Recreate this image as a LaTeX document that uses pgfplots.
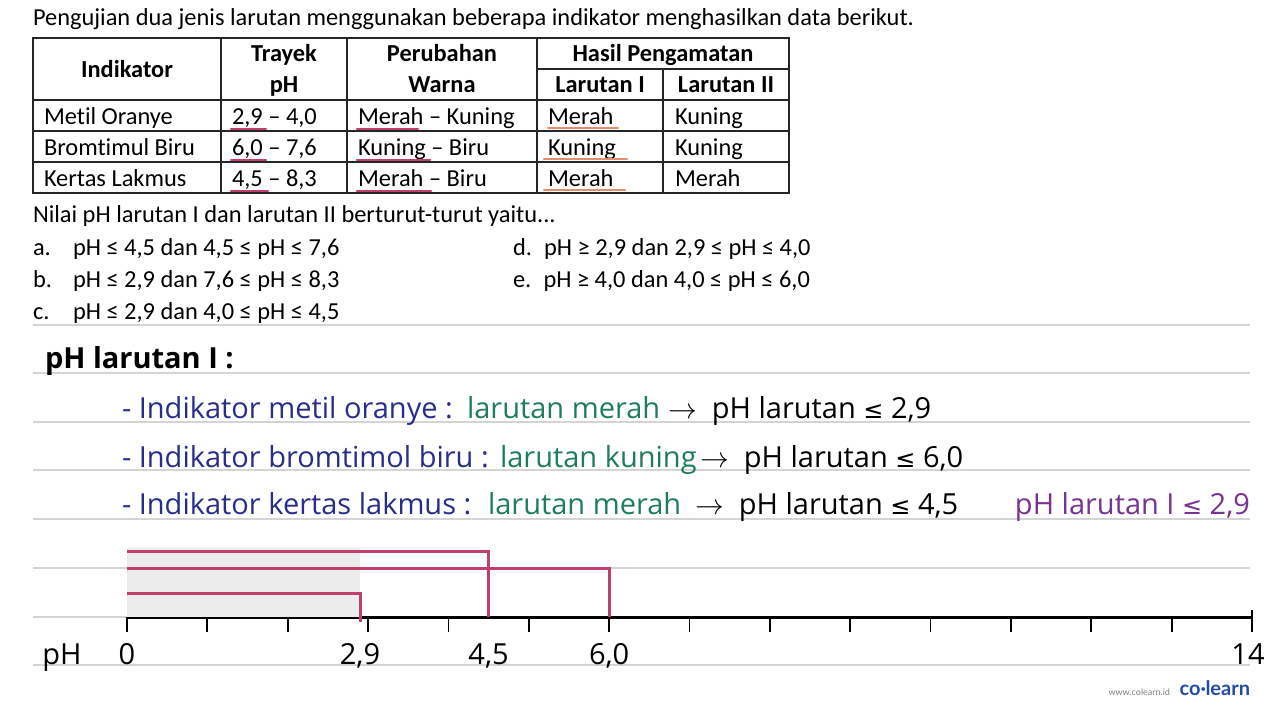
\documentclass[border=0pt]{standalone}
\usepackage{pgfplots}
\pgfplotsset{compat=1.18}
\usepackage{fontspec}
\setmainfont{Carlito}[Ligatures={NoCommon}]
\newfontfamily\hand{Open Sans}
\newfontfamily\sym{DejaVu Sans}
\newfontfamily\logo{Lato}
\definecolor{navy}{RGB}{40,45,140}
\definecolor{hgreen}{RGB}{30,125,95}
\definecolor{hpurple}{RGB}{120,50,145}
\definecolor{pinkred}{RGB}{192,64,104}
\definecolor{uorange}{RGB}{232,140,110}
\definecolor{rulegray}{RGB}{212,212,212}
\definecolor{shade}{RGB}{236,236,236}
\definecolor{colearn}{RGB}{35,75,165}
\newcommand\qf{\fontsize{12.2}{14}\selectfont}
\newcommand\hf{\hand\fontsize{14.5}{17}\selectfont}
\newcommand\hle{{\sym\fontsize{12}{14}\selectfont ≤}}
\begin{document}
\begin{tikzpicture}
\useasboundingbox (0,0) rectangle (640pt,-360pt);
\begin{scope}[x=0.5pt,y=-0.5pt, every node/.style={inner sep=0pt, outer sep=0pt}]
% ruled lines
\foreach \yy in {325,373,422,470,519,568,617,665}
  \draw[rulegray, line width=1pt] (33,\yy) -- (1250,\yy);
% title
\node[anchor=base west, font=\qf] at (33,25) {Pengujian dua jenis larutan menggunakan beberapa indikator menghasilkan data berikut.};
% table grid
\begin{scope}[line width=0.6pt, black!85]
\draw (33,38) rectangle (789,193);
\draw (33,100) -- (789,100);
\draw (33,131) -- (789,131);
\draw (33,162) -- (789,162);
\draw (537,69) -- (789,69);
\draw (221,38) -- (221,193);
\draw (347,38) -- (347,193);
\draw (537,38) -- (537,193);
\draw (663,69) -- (663,193);
\end{scope}
% header
\node[anchor=base, font=\qf\bfseries] at (127,77) {Indikator};
\node[anchor=base, font=\qf\bfseries] at (284,61) {Trayek};
\node[anchor=base, font=\qf\bfseries] at (284,92) {pH};
\node[anchor=base, font=\qf\bfseries] at (442,61) {Perubahan};
\node[anchor=base, font=\qf\bfseries] at (442,92) {Warna};
\node[anchor=base, font=\qf\bfseries] at (663,61) {Hasil Pengamatan};
\node[anchor=base, font=\qf\bfseries] at (600,92) {Larutan I};
\node[anchor=base, font=\qf\bfseries] at (726,92) {Larutan II};
% rows
\node[anchor=base west, font=\qf] at (44,124) {Metil Oranye};
\node[anchor=base west, font=\qf] at (44,155) {Bromtimul Biru};
\node[anchor=base west, font=\qf] at (44,186) {Kertas Lakmus};
\node[anchor=base west, font=\qf] at (232,124) {2,9 – 4,0};
\node[anchor=base west, font=\qf] at (232,155) {6,0 – 7,6};
\node[anchor=base west, font=\qf] at (232,186) {4,5 – 8,3};
\node[anchor=base west, font=\qf] at (358,124) {Merah – Kuning};
\node[anchor=base west, font=\qf] at (358,155) {Kuning – Biru};
\node[anchor=base west, font=\qf] at (358,186) {Merah – Biru};
\node[anchor=base west, font=\qf] at (548,124) {Merah};
\node[anchor=base west, font=\qf] at (548,155) {Kuning};
\node[anchor=base west, font=\qf] at (548,186) {Merah};
\node[anchor=base west, font=\qf] at (675,124) {Kuning};
\node[anchor=base west, font=\qf] at (675,155) {Kuning};
\node[anchor=base west, font=\qf] at (675,186) {Merah};
% underlines
\begin{scope}[line width=1.2pt, pinkred, line cap=round]
\draw (231,129) -- (266,129);
\draw (231,160) -- (266,160);
\draw (231,191) -- (268,191);
\draw (357,129) -- (418,129);
\draw (357,160) -- (430,160);
\draw (357,191) -- (431,191);
\end{scope}
\begin{scope}[line width=1.2pt, uorange, line cap=round]
\draw (548,128) -- (618,128);
\draw (544,159) -- (627,159);
\draw (544,190) -- (625,190);
\end{scope}
% question
\node[anchor=base west, font=\qf] at (33,222) {Nilai pH larutan I dan larutan II berturut-turut yaitu...};
\node[anchor=base west, font=\qf] at (33,255) {a.};
\node[anchor=base west, font=\qf] at (73,255) {pH ≤ 4,5 dan 4,5 ≤ pH ≤ 7,6};
\node[anchor=base west, font=\qf] at (33,287) {b.};
\node[anchor=base west, font=\qf] at (73,287) {pH ≤ 2,9 dan 7,6 ≤ pH ≤ 8,3};
\node[anchor=base west, font=\qf] at (33,319) {c.};
\node[anchor=base west, font=\qf] at (73,319) {pH ≤ 2,9 dan 4,0 ≤ pH ≤ 4,5};
\node[anchor=base west, font=\qf] at (513,255) {d.\enspace pH ≥ 2,9 dan 2,9 ≤ pH ≤ 4,0};
\node[anchor=base west, font=\qf] at (513,287) {e.\enspace pH ≥ 4,0 dan 4,0 ≤ pH ≤ 6,0};
% solution
\node[anchor=base west, font=\hand\bfseries\fontsize{14.5}{17}\selectfont] at (45,368) {pH larutan I :};
\node[anchor=base west, font=\hf, text=navy] at (122,418) {- Indikator metil oranye :};
\node[anchor=base west, font=\hf, text=hgreen] at (467,418) {larutan merah};
\node[anchor=base west, font=\hf] at (668,418) {$\rightarrow$\ \ pH larutan \hle\ 2,9};
\node[anchor=base west, font=\hf, text=navy] at (122,467) {- Indikator bromtimol biru :};
\node[anchor=base west, font=\hf, text=hgreen] at (500,467) {larutan kuning};
\node[anchor=base west, font=\hf] at (700,467) {$\rightarrow$\ \ pH larutan \hle\ 6,0};
\node[anchor=base west, font=\hf, text=navy] at (122,514) {- Indikator kertas lakmus :};
\node[anchor=base west, font=\hf, text=hgreen] at (488,514) {larutan merah};
\node[anchor=base west, font=\hf] at (695,514) {$\rightarrow$\ \ pH larutan \hle\ 4,5};
\node[anchor=base east, font=\hf, text=hpurple] at (1250,514) {pH larutan I \hle\ 2,9};
\node[anchor=base, font=\hf] at (62,664) {pH};
% logo
\node[anchor=base east, font=\logo\fontsize{4.5}{5}\selectfont, text=gray] at (1170,695) {www.colearn.id};
\node[anchor=base east, font=\logo\bfseries\fontsize{10}{12}\selectfont, text=colearn] at (1250,695) {co·learn};
\end{scope}
\begin{axis}[at={(63.5pt,-308.5pt)}, anchor=south west, scale only axis,
  width=562.5pt, height=35pt, xmin=0, xmax=14, ymin=0, ymax=70,
  axis x line*=bottom, axis y line=none,
  xtick={0,1,...,14}, xticklabels={}, tick align=outside,
  major tick length=7.5pt,
  axis line style={line width=1.5pt, black},
  xtick style={line width=0.9pt, black},
  clip=false]
\addplot[fill=shade, draw=none] coordinates {(0,0) (0,69) (2.9,69) (2.9,0)} -- cycle;
\addplot[pinkred, line width=1.5pt] coordinates {(0,66) (4.5,66) (4.5,0)};
\addplot[pinkred, line width=1.5pt] coordinates {(0,49) (6,49) (6,0)};
\addplot[pinkred, line width=1.5pt] coordinates {(0,24) (2.9,24) (2.9,-5)};
\addplot[black, line width=0.9pt] coordinates {(14,0) (14,7)};
\node[anchor=base, font=\hf] at (axis cs:0,-47) {0};
\node[anchor=base, font=\hf] at (axis cs:2.9,-47) {2,9};
\node[anchor=base, font=\hf] at (axis cs:4.5,-47) {4,5};
\node[anchor=base, font=\hf] at (axis cs:6,-47) {6,0};
\node[anchor=base, font=\hf] at (axis cs:13.95,-47) {14};
\end{axis}
\end{tikzpicture}
\end{document}
